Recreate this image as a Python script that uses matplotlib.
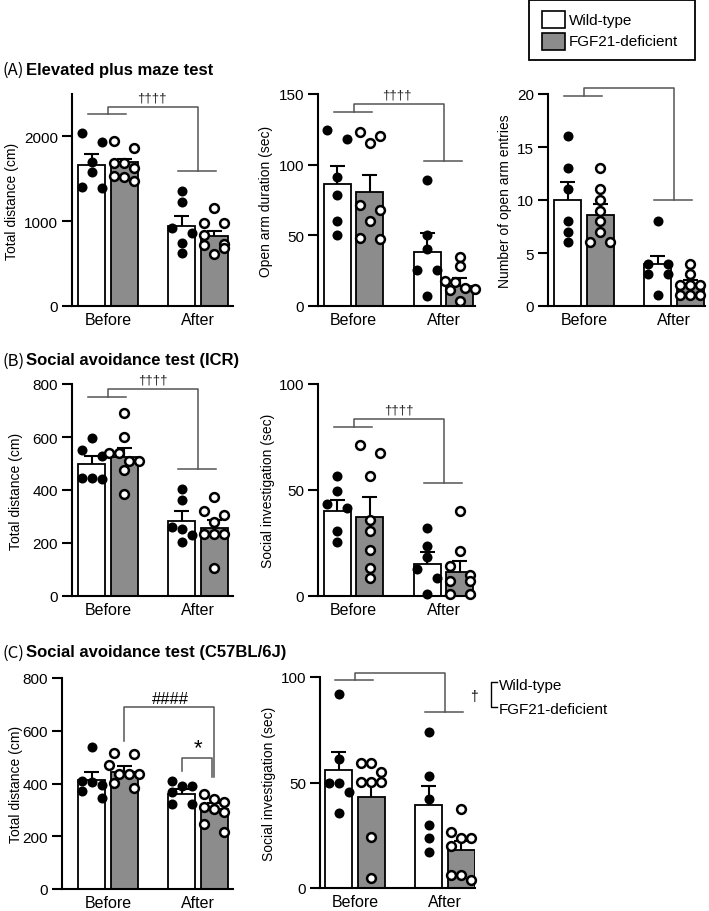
import matplotlib
matplotlib.use('Agg')
import matplotlib.pyplot as plt
from matplotlib.patches import Rectangle
from matplotlib.lines import Line2D

plt.rcParams['font.family'] = ['Liberation Sans', 'DejaVu Sans']

# ---------------- data ----------------
groups = ['Before', 'After']
genotypes = ['Wild-type', 'FGF21-deficient']

# (A) Elevated plus maze test
epm_dist_wt_mean = [1663, 941]
epm_dist_wt_sem = [128, 126]
epm_dist_ko_mean = [1700, 824]
epm_dist_ko_sem = [30, 58]
epm_dist_wt_pts = [[2040, 1937, 1700, 1576, 1400, 1391],
                   [1353, 1224, 922, 855, 745, 620]]
epm_dist_ko_pts = [[1949, 1860, 1683, 1683, 1624, 1530, 1518, 1478],
                   [1157, 980, 973, 843, 737, 725, 686, 608]]

epm_open_wt_mean = [86.3, 38.4]
epm_open_wt_sem = [13.0, 13.2]
epm_open_ko_mean = [80.4, 14.0]
epm_open_ko_sem = [12.3, 5.6]
epm_open_wt_pts = [[124.8, 118.2, 91.5, 78.5, 60.3, 50.1],
                   [89.0, 50.0, 40.0, 25.5, 25.5, 7.0]]
epm_open_ko_pts = [[123.0, 120.6, 115.4, 71.4, 68.1, 60.3, 47.8, 47.3],
                   [35.0, 28.0, 18.0, 17.0, 13.0, 12.0, 11.0, 3.5]]

epm_entry_wt_mean = [10.0, 4.0]
epm_entry_wt_sem = [1.7, 0.75]
epm_entry_ko_mean = [8.6, 2.05]
epm_entry_ko_sem = [1.0, 0.38]
epm_entry_wt_pts = [[16, 13, 11, 8, 7, 6], [8, 4, 4, 3, 3, 1]]
epm_entry_ko_pts = [[13, 11, 10, 9, 8, 7, 6, 6], [4, 3, 2, 2, 2, 1, 1, 1]]

# (B) Social avoidance test (ICR)
icr_dist_wt_mean = [497, 283]
icr_dist_wt_sem = [31, 37]
icr_dist_ko_mean = [525, 257]
icr_dist_ko_sem = [35, 31]
icr_dist_wt_pts = [[596, 552, 528, 445, 445, 440], [405, 364, 260, 254, 229, 204]]
icr_dist_ko_pts = [[692, 600, 541, 541, 508, 508, 474, 384],
                   [374, 321, 304, 279, 235, 235, 235, 106]]

icr_si_wt_mean = [40.0, 15.1]
icr_si_wt_sem = [5.4, 5.5]
icr_si_ko_mean = [37.5, 11.5]
icr_si_ko_sem = [9.1, 5.1]
icr_si_wt_pts = [[56.4, 49.3, 43.2, 41.4, 30.5, 25.7], [31.9, 23.7, 18.2, 12.7, 8.3, 0.9]]
icr_si_ko_pts = [[71.0, 67.5, 56.5, 36.0, 30.5, 21.5, 13.2, 8.5],
                 [40.0, 21.0, 14.0, 10.0, 7.0, 7.0, 1.0, 1.0]]

# (C) Social avoidance test (C57BL/6J)
c57_dist_wt_mean = [415, 360]
c57_dist_wt_sem = [27, 19]
c57_dist_ko_mean = [445, 305]
c57_dist_ko_sem = [20, 20]
c57_dist_wt_pts = [[540, 410, 405, 395, 370, 345], [411, 392, 392, 369, 322, 322]]
c57_dist_ko_pts = [[516, 510, 472, 436, 436, 436, 402, 382],
                   [360, 341, 329, 310, 303, 291, 246, 215]]

c57_si_wt_mean = [55.8, 39.2]
c57_si_wt_sem = [8.5, 9.0]
c57_si_ko_mean = [43.1, 18.0]
c57_si_ko_sem = [7.5, 4.4]
c57_si_wt_pts = [[91.8, 61.1, 49.8, 49.8, 45.5, 35.4], [73.7, 53.3, 42.3, 29.8, 23.5, 17.2]]
c57_si_ko_pts = [[59.2, 59.2, 55.0, 50.2, 50.2, 50.2, 24.0, 4.7],
                 [37.6, 26.6, 23.5, 23.5, 20.0, 6.3, 6.3, 3.6]]

# ---------------- layout ----------------
W, H = 709, 912
fig = plt.figure(figsize=(W / 100, H / 100), dpi=100)

GRAY = '#8c8c8c'
BRK = '#555555'
GROUP_PX = 90.0   # pixels between Before and After centres
OFF = 0.18        # bar offset from group centre
BAR_W = 0.3
CAP = 0.085
DOT = 10.0        # swarm spacing in pixels


def px_axes(left, top, right, bottom, c0):
    ax = fig.add_axes([left / W, 1 - bottom / H, (right - left) / W, (bottom - top) / H])
    ax.set_xlim((left - c0) / GROUP_PX, (right - c0) / GROUP_PX)
    for s in ['top', 'right']:
        ax.spines[s].set_visible(False)
    for s in ['left', 'bottom']:
        ax.spines[s].set_linewidth(1.5)
    ax.tick_params(axis='y', direction='out', length=7, width=1.5, labelsize=11, pad=3)
    ax.tick_params(axis='x', length=0, labelsize=11.5, pad=4)
    ax.set_xticks([0, 1])
    ax.set_xticklabels(groups)
    return ax


def swarm_offsets(ax, values):
    p0 = ax.transData.transform((0, 0))[1]
    p1 = ax.transData.transform((0, 1))[1]
    ys = [v * (p1 - p0) for v in values]
    order = sorted(range(len(values)), key=lambda i: -values[i])
    rows = []
    for i in order:
        if rows and ys[rows[-1][0]] - ys[i] < DOT * 0.95:
            rows[-1].append(i)
        else:
            rows.append([i])
    placed = []
    offs = [0.0] * len(values)
    for row in rows:
        n = len(row)
        if n == 1:
            cands = [[0], [-1], [1], [-2], [2]]
        elif n == 2:
            cands = [[-1, 1]]
        else:
            cands = [[k - (n - 1) / 2 for k in range(n)]]
        for cand in cands:
            ok = all(((c - px) * DOT) ** 2 + (ys[i] - py) ** 2 >= (0.9 * DOT) ** 2
                     for c, i in zip(cand, row) for px, py in placed)
            if ok:
                break
        for c, i in zip(cand, row):
            offs[i] = c * DOT / GROUP_PX
            placed.append((c, ys[i]))
    return offs


def draw_panel(ax, wt_mean, wt_sem, ko_mean, ko_sem, wt_pts, ko_pts):
    for g in range(2):
        sets = [(-1, wt_mean[g], wt_sem[g], wt_pts[g], 'white'),
                (1, ko_mean[g], ko_sem[g], ko_pts[g], GRAY)]
        for sign, mean, sem, pts, face in sets:
            x = g + sign * OFF
            ax.bar(x, mean, width=BAR_W, color=face, edgecolor='black', linewidth=1.3, zorder=2)
            ax.vlines(x, mean, mean + sem, color='black', lw=1.5, zorder=3)
            ax.hlines(mean + sem, x - CAP, x + CAP, color='black', lw=1.5, zorder=3)
            xs = [x + o for o in swarm_offsets(ax, pts)]
            if sign < 0:
                ax.scatter(xs, pts, s=52, color='black', zorder=4, clip_on=False, linewidths=0)
            else:
                ax.scatter(xs, pts, s=40, facecolor='white', edgecolor='black',
                           linewidth=1.8, zorder=4, clip_on=False)


def group_bracket(ax, y_before, y_top, y_after, label, tx=0.5):
    kw = dict(color=BRK, lw=1.1, clip_on=False, zorder=5)
    ax.plot([-0.22, 0.2], [y_before] * 2, **kw)
    ax.plot([0.78, 1.2], [y_after] * 2, **kw)
    ax.plot([0, 0, 1, 1], [y_before, y_top, y_top, y_after], **kw)
    ax.annotate(label, xy=(tx, y_top), xytext=(0, 6.5), textcoords='offset points',
                ha='center', va='center', fontsize=9.5, color='#222222')


def ylabel_px(x, ax_top, ax_bottom, text):
    fig.text(x / W, 1 - (ax_top + ax_bottom) / 2 / H, text, rotation=90,
             ha='center', va='center', fontsize=10)


# ---- (A) ----
axA1 = px_axes(72, 95, 233, 307, 108)
axA1.set_ylim(0, 2500)
axA1.set_yticks([0, 1000, 2000])
draw_panel(axA1, epm_dist_wt_mean, epm_dist_wt_sem, epm_dist_ko_mean, epm_dist_ko_sem,
           epm_dist_wt_pts, epm_dist_ko_pts)
group_bracket(axA1, 2264, 2350, 1595, '††††', 0.49)
ylabel_px(12, 95, 307, 'Total distance (cm)')

axA2 = px_axes(318, 95, 475, 307, 353.5)
axA2.set_ylim(0, 150)
axA2.set_yticks([0, 50, 100, 150])
draw_panel(axA2, epm_open_wt_mean, epm_open_wt_sem, epm_open_ko_mean, epm_open_ko_sem,
           epm_open_wt_pts, epm_open_ko_pts)
group_bracket(axA2, 137, 143, 102.6, '††††', 0.48)
ylabel_px(266, 95, 307, 'Open arm duration (sec)')

axA3 = px_axes(548, 95, 705, 307, 584)
axA3.set_ylim(0, 20)
axA3.set_yticks([0, 5, 10, 15, 20])
draw_panel(axA3, epm_entry_wt_mean, epm_entry_wt_sem, epm_entry_ko_mean, epm_entry_ko_sem,
           epm_entry_wt_pts, epm_entry_ko_pts)
group_bracket(axA3, 19.8, 20.6, 10.0, '††††', 0.4)
ylabel_px(505, 95, 307, 'Number of open arm entries')

# ---- (B) ----
axB1 = px_axes(72, 385, 233, 597, 108)
axB1.set_ylim(0, 800)
axB1.set_yticks([0, 200, 400, 600, 800])
draw_panel(axB1, icr_dist_wt_mean, icr_dist_wt_sem, icr_dist_ko_mean, icr_dist_ko_sem,
           icr_dist_wt_pts, icr_dist_ko_pts)
group_bracket(axB1, 750, 782, 480, '††††', 0.5)
ylabel_px(16, 385, 597, 'Total distance (cm)')

axB2 = px_axes(318, 385, 475, 597, 353.5)
axB2.set_ylim(0, 100)
axB2.set_yticks([0, 50, 100])
draw_panel(axB2, icr_si_wt_mean, icr_si_wt_sem, icr_si_ko_mean, icr_si_ko_sem,
           icr_si_wt_pts, icr_si_ko_pts)
group_bracket(axB2, 79.9, 83.5, 53.3, '††††', 0.5)
ylabel_px(268, 385, 597, 'Social investigation (sec)')

# ---- (C) ----
axC1 = px_axes(62, 679, 233, 890, 108)
axC1.set_ylim(0, 800)
axC1.set_yticks([0, 200, 400, 600, 800])
draw_panel(axC1, c57_dist_wt_mean, c57_dist_wt_sem, c57_dist_ko_mean, c57_dist_ko_sem,
           c57_dist_wt_pts, c57_dist_ko_pts)
kw = dict(color=BRK, lw=1.1, clip_on=False, zorder=5)
axC1.plot([OFF, OFF, 1 + OFF, 1 + OFF], [562, 690, 690, 424], **kw)
axC1.plot([1 - OFF, 1 - OFF, 1 + OFF - 0.03, 1 + OFF - 0.03], [448, 496, 496, 424], **kw)
axC1.text(0.69, 724, '####', ha='center', va='center', fontsize=12)
axC1.text(1.0, 535, '*', ha='center', va='center', fontsize=16)
ylabel_px(16, 679, 890, 'Total distance (cm)')

axC2 = px_axes(320, 678, 475, 889, 355)
axC2.set_ylim(0, 100)
axC2.set_yticks([0, 50, 100])
draw_panel(axC2, c57_si_wt_mean, c57_si_wt_sem, c57_si_ko_mean, c57_si_ko_sem,
           c57_si_wt_pts, c57_si_ko_pts)
group_bracket(axC2, 98.6, 101.7, 83.5, '††', 0.42)
ylabel_px(269, 678, 889, 'Social investigation (sec)')

# ---- section titles ----
titles = [(70, 'A', 'Elevated plus maze test'),
          (361, 'B', 'Social avoidance test (ICR)'),
          (653, 'C', 'Social avoidance test (C57BL/6J)')]
for y, letter, name in titles:
    fig.text(2 / W, 1 - y / H, '(' + letter + ')', family=['Noto Sans CJK JP', 'DejaVu Sans'],
             fontsize=12, va='center', ha='left')
    fig.text(26 / W, 1 - y / H, name, fontsize=12, fontweight='bold', va='center', ha='left')

# ---- legend box (top right) ----
fig.patches.append(Rectangle((529 / W, 1 - 61 / H), (695 - 529) / W, 60 / H,
                             transform=fig.transFigure, fill=False, lw=1.3, edgecolor='black'))
for (y0, y1), face, name in zip([(12, 29), (34, 51)], ['white', GRAY], genotypes):
    fig.patches.append(Rectangle((542 / W, 1 - y1 / H), 23 / W, (y1 - y0) / H,
                                 transform=fig.transFigure, facecolor=face,
                                 edgecolor='black', lw=1.2))
    fig.text(569 / W, 1 - (y0 + y1) / 2 / H, name, fontsize=11, va='center', ha='left')

# ---- side legend for (C) genotype effect ----
fig.text(474 / W, 1 - 697 / H, '†', fontsize=10, ha='center', va='center')
fig.lines.append(Line2D([497 / W, 491 / W, 491 / W, 497 / W],
                        [1 - 683 / H, 1 - 683 / H, 1 - 708 / H, 1 - 708 / H],
                        transform=fig.transFigure, color='black', lw=1.0))
fig.text(499 / W, 1 - 686 / H, genotypes[0], fontsize=11, va='center', ha='left')
fig.text(499 / W, 1 - 710 / H, genotypes[1], fontsize=11, va='center', ha='left')

fig.savefig('out.png', dpi=100)
